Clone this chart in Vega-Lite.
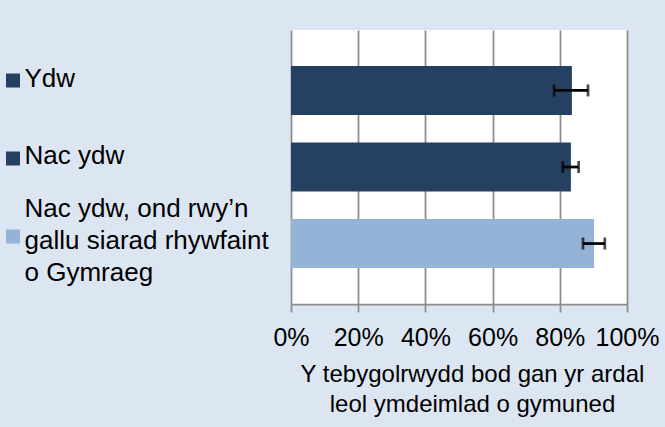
{
  "$schema": "https://vega.github.io/schema/vega-lite/v6.json",
  "width": 336,
  "height": 274,
  "autosize": {"type": "none"},
  "padding": {"left": 291, "top": 30, "right": 38, "bottom": 123},
  "background": "#dce6f2",
  "config": {
    "view": {"fill": "white", "stroke": null},
    "font": "Liberation Sans"
  },
  "data": {
    "values": [
      {"svar": "Ydw", "gwerth": 0.836, "isaf": 0.783, "uchaf": 0.884},
      {"svar": "Nac ydw", "gwerth": 0.833, "isaf": 0.809, "uchaf": 0.856},
      {"svar": "Nac ydw, ond rwy’n\ngallu siarad rhywfaint\no Gymraeg", "gwerth": 0.902, "isaf": 0.869, "uchaf": 0.934}
    ]
  },
  "encoding": {
    "y": {
      "field": "svar",
      "type": "nominal",
      "sort": null,
      "scale": {"paddingInner": 0.36, "paddingOuter": 0.47},
      "axis": {
        "title": null,
        "domain": false,
        "ticks": false,
        "tickSize": 0,
        "grid": false,
        "labelAlign": "left",
        "labelBaseline": "middle",
        "labelPadding": 267,
        "labelFontSize": 26,
        "labelLineHeight": 32,
        "labelColor": "black",
        "labelLimit": 300,
        "labelOffset": {"condition": {"test": "indexof(datum.value, '\\n') >= 0", "value": -35}, "value": -11},
        "labelExpr": "split(datum.label, '\\n')"
      }
    }
  },
  "layer": [
    {
      "mark": {"type": "bar"},
      "encoding": {
        "x": {
          "field": "gwerth",
          "type": "quantitative",
          "title": ["Y tebygolrwydd bod gan yr ardal", "leol ymdeimlad o gymuned"],
          "scale": {"domain": [0, 1], "nice": false},
          "axis": {
            "format": "%",
            "values": [0, 0.2, 0.4, 0.6, 0.8, 1],
            "grid": true,
            "gridColor": "#8c8c8c",
            "gridWidth": 1.75,
            "domainColor": "#8c8c8c",
            "domainWidth": 1.75,
            "tickColor": "#8c8c8c",
            "tickWidth": 1.75,
            "tickSize": 8,
            "labelFontSize": 25,
            "labelColor": "black",
            "labelPadding": 13,
            "labelFlush": false,
            "labelOverlap": false,
            "titleFontSize": 24,
            "titleFontWeight": "normal",
            "titleColor": "black",
            "titleLineHeight": 30,
            "titleX": 181,
            "titlePadding": 12
          }
        },
        "color": {
          "field": "svar",
          "type": "nominal",
          "scale": {
            "domain": ["Ydw", "Nac ydw", "Nac ydw, ond rwy’n\ngallu siarad rhywfaint\no Gymraeg"],
            "range": ["#254061", "#254061", "#95b3d7"]
          },
          "legend": {
            "orient": "none",
            "legendX": -285,
            "legendY": 43.5,
            "title": null,
            "symbolType": "square",
            "symbolSize": 196,
            "symbolStrokeWidth": 0,
            "symbolOpacity": 1,
            "rowPadding": 64,
            "padding": 0,
            "labelExpr": "''",
            "labelFontSize": 10
          }
        }
      }
    },
    {
      "mark": {"type": "errorbar", "ticks": true, "color": "black", "size": 12, "thickness": 2.75},
      "encoding": {
        "x": {"field": "isaf", "type": "quantitative", "title": ["Y tebygolrwydd bod gan yr ardal", "leol ymdeimlad o gymuned"]},
        "x2": {"field": "uchaf"}
      }
    }
  ]
}
